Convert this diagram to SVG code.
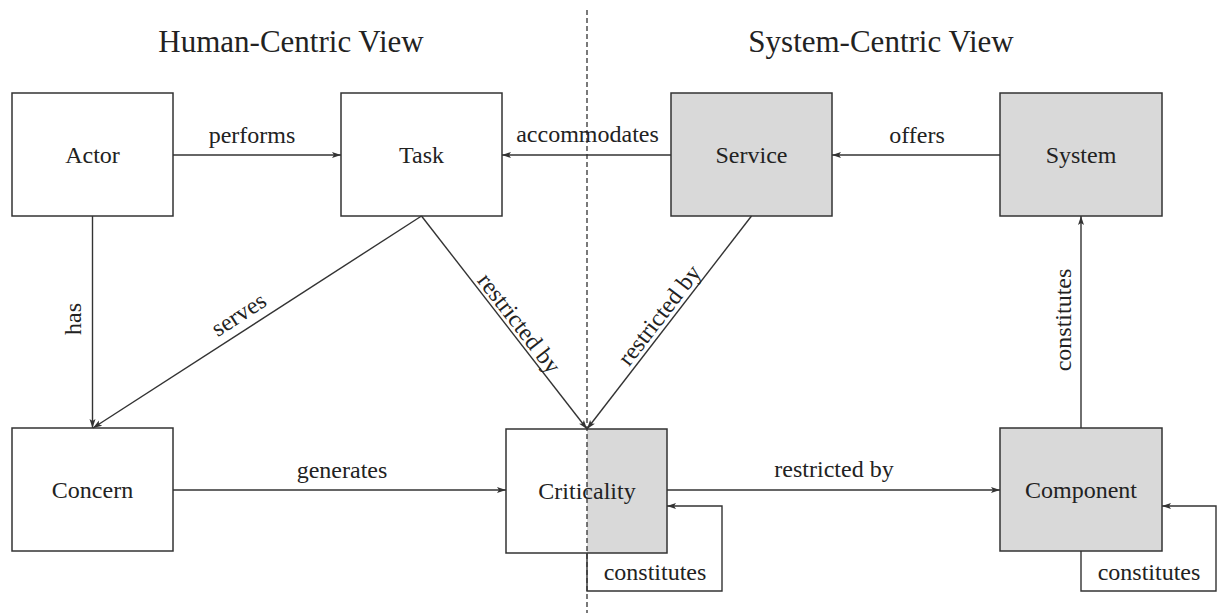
<svg xmlns="http://www.w3.org/2000/svg" width="1217" height="613" viewBox="0 0 1217 613">
<style>
.box{stroke:#333;stroke-width:1.5;}
.w{fill:#fff;}
.g{fill:#d9d9d9;}
.lbl{font-family:"Liberation Serif","Times New Roman",serif;font-size:24px;fill:#222;text-anchor:middle;}
.title{font-family:"Liberation Serif","Times New Roman",serif;font-size:31px;fill:#222;text-anchor:middle;}
.c{fill:none;stroke:#333;stroke-width:1.4;}
</style>
<defs>
<marker id="ah" markerUnits="userSpaceOnUse" markerWidth="10" markerHeight="8" refX="9" refY="4" orient="auto">
<path d="M0,1 L9,4 L0,7 L2,4 Z" fill="#333"/>
</marker>
</defs>
<rect width="1217" height="613" fill="#fff"/>
<text class="title" x="291" y="52">Human-Centric View</text>
<text class="title" x="881" y="52">System-Centric View</text>

<g id="actor"><rect class="box w" x="12" y="93" width="161" height="123"/><text class="lbl" x="92.5" y="163">Actor</text></g>
<g id="task"><rect class="box w" x="341" y="93" width="161" height="123"/><text class="lbl" x="421.5" y="163">Task</text></g>
<g id="service"><rect class="box g" x="671" y="93" width="161" height="123"/><text class="lbl" x="751.5" y="163">Service</text></g>
<g id="system"><rect class="box g" x="1000" y="93" width="162" height="123"/><text class="lbl" x="1081" y="163">System</text></g>
<g id="concern"><rect class="box w" x="12" y="428" width="161" height="123"/><text class="lbl" x="92.5" y="498">Concern</text></g>
<g id="criticality">
<rect x="506" y="429" width="81" height="124" fill="#fff"/>
<rect x="587" y="429" width="80" height="124" fill="#d9d9d9"/>
<rect x="506" y="429" width="161" height="124" fill="none" stroke="#333" stroke-width="1.5"/>
<text class="lbl" x="587" y="499">Criticality</text></g>
<g id="component"><rect class="box g" x="1000" y="428" width="162" height="123"/><text class="lbl" x="1081" y="498">Component</text></g>

<line x1="587" y1="10" x2="587" y2="613" stroke="#333" stroke-width="1.3" stroke-dasharray="5,3"/>

<g id="connectors">
<line class="c" x1="173" y1="155" x2="341" y2="155" marker-end="url(#ah)"/>
<text class="lbl" x="252" y="143">performs</text>
<line class="c" x1="671" y1="155" x2="502" y2="155" marker-end="url(#ah)"/>
<text class="lbl" x="587.5" y="142">accommodates</text>
<line class="c" x1="1000" y1="155" x2="832" y2="155" marker-end="url(#ah)"/>
<text class="lbl" x="917" y="143">offers</text>
<line class="c" x1="92.5" y1="216" x2="92.5" y2="428" marker-end="url(#ah)"/>
<text class="lbl" transform="translate(81,319) rotate(-90)">has</text>
<line class="c" x1="421.5" y1="216" x2="93" y2="428" marker-end="url(#ah)"/>
<text class="lbl" transform="translate(243,321) rotate(-32.8)">serves</text>
<line class="c" x1="421.5" y1="216" x2="587" y2="429" marker-end="url(#ah)"/>
<text class="lbl" transform="translate(513,328) rotate(52.2)">restricted by</text>
<line class="c" x1="751.5" y1="216" x2="587" y2="429" marker-end="url(#ah)"/>
<text class="lbl" transform="translate(665.5,320) rotate(-52.3)">restricted by</text>
<line class="c" x1="173" y1="490" x2="506" y2="490" marker-end="url(#ah)"/>
<text class="lbl" x="342" y="478">generates</text>
<line class="c" x1="667" y1="490" x2="1000" y2="490" marker-end="url(#ah)"/>
<text class="lbl" x="834" y="477">restricted by</text>
<line class="c" x1="1081" y1="428" x2="1081" y2="216" marker-end="url(#ah)"/>
<text class="lbl" transform="translate(1071,320) rotate(-90)">constitutes</text>
<polyline class="c" points="587,553 587,591 722,591 722,506 667,506" marker-end="url(#ah)"/>
<text class="lbl" x="655" y="580">constitutes</text>
<polyline class="c" points="1081,551 1081,591 1216,591 1216,506 1162,506" marker-end="url(#ah)"/>
<text class="lbl" x="1149" y="580">constitutes</text>
</g>
</svg>
